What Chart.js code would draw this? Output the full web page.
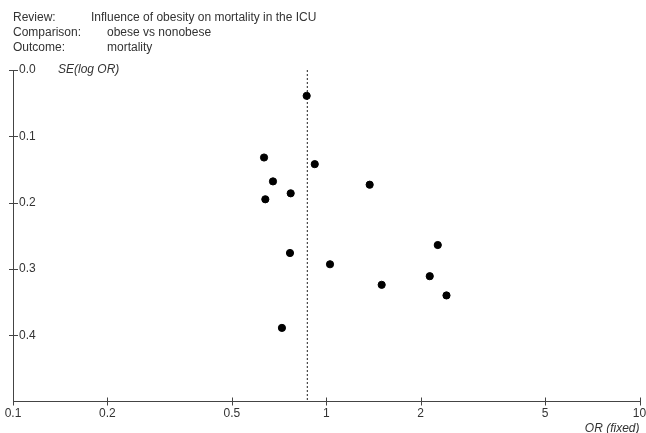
<!DOCTYPE html>
<html>
<head>
<meta charset="utf-8">
<script src="https://cdn.jsdelivr.net/npm/chart.js@4.4.0/dist/chart.umd.min.js"></script>
<style>
  html, body { margin: 0; padding: 0; background: #fff; }
  #wrap { width: 646px; height: 433px; position: relative; }
</style>
</head>
<body>
<div id="wrap"><canvas id="myChart" width="646" height="433"></canvas></div>
<script>
// study estimates
const oddsRatios = [0.866, 0.633, 0.919, 0.676, 0.770, 0.639, 1.376, 0.766, 1.028, 2.27, 2.14, 1.503, 2.42, 0.722];
const seLogOR    = [0.039, 0.132, 0.142, 0.168, 0.186, 0.195, 0.173, 0.276, 0.293, 0.264, 0.311, 0.324, 0.340, 0.389];
const pooledOR = 0.87;
const xTicks = [0.1, 0.2, 0.5, 1, 2, 5, 10];
const yTicks = [0, 0.1, 0.2, 0.3, 0.4];
const header = [
    ['Review:', 'Influence of obesity on mortality in the ICU', 91],
    ['Comparison:', 'obese vs nonobese', 107],
    ['Outcome:', 'mortality', 107]
];

const axisColor = '#444';
const textColor = '#333';
const fontFam = '"Liberation Sans", Arial, sans-serif';

let points = [];
for (var i = 0; i < oddsRatios.length; i++) {
    points.push({ x: oddsRatios[i], y: seLogOR[i] });
}

// header lines, y axis caption and tick marks crossing the axes
const decor = {
    id: 'decor',
    afterDraw(chart) {
        const ctx = chart.ctx;
        const xs = chart.scales.x, ys = chart.scales.y;
        const a = chart.chartArea;
        ctx.save();
        ctx.fillStyle = textColor;
        ctx.font = '12px ' + fontFam;
        ctx.textBaseline = 'middle';
        for (var i = 0; i < header.length; i++) {
            ctx.fillText(header[i][0], 13, 18 + i * 15);
            ctx.fillText(header[i][1], header[i][2], 18 + i * 15);
        }
        ctx.font = 'italic 12px ' + fontFam;
        ctx.fillText('SE(log OR)', 58, a.top);

        ctx.strokeStyle = axisColor;
        ctx.lineWidth = 1;
        ctx.beginPath();
        xTicks.forEach(v => {
            const px = Math.round(xs.getPixelForValue(v)) + 0.5;
            ctx.moveTo(px, a.bottom - 4);
            ctx.lineTo(px, a.bottom + 4);
        });
        yTicks.forEach(v => {
            const py = Math.round(ys.getPixelForValue(v)) + 0.5;
            ctx.moveTo(a.left - 4, py);
            ctx.lineTo(a.left + 5, py);
        });
        ctx.stroke();
        ctx.restore();
    }
};

Chart.defaults.font.family = fontFam;
Chart.defaults.font.size = 12;
Chart.defaults.color = textColor;

const ctx = document.getElementById('myChart').getContext('2d');
const myChart = new Chart(ctx, {
    type: 'scatter',
    data: {
        datasets: [{
            data: points,
            backgroundColor: '#000',
            borderColor: '#000',
            pointRadius: 3.6,
            pointHoverRadius: 3.6
        }, {
            type: 'line',
            data: [{ x: pooledOR, y: 0 }, { x: pooledOR, y: 0.5 }],
            borderColor: '#222',
            borderWidth: 1,
            borderDash: [2, 2],
            pointRadius: 0,
            fill: false
        }]
    },
    plugins: [decor],
    options: {
        responsive: false,
        animation: false,
        events: [],
        layout: {
            padding: { left: 13, right: 6.5, top: 70, bottom: 0 }
        },
        plugins: {
            legend: { display: false },
            tooltip: { enabled: false }
        },
        scales: {
            x: {
                type: 'logarithmic',
                min: 0.1,
                max: 10,
                afterBuildTicks: (scale) => {
                    scale.ticks = xTicks.map(v => ({ value: v }));
                },
                afterFit: (scale) => {
                    scale.paddingLeft = 0;
                    scale.paddingRight = 0;
                    scale.height = 31.5;
                },
                ticks: {
                    autoSkip: false,
                    maxRotation: 0,
                    padding: 5,
                    color: textColor,
                    callback: (v) => String(v)
                },
                grid: { display: false, drawTicks: false },
                border: { color: axisColor, width: 1 },
                title: {
                    display: true,
                    text: 'OR (fixed)',
                    align: 'end',
                    color: textColor,
                    font: { style: 'italic', size: 12 },
                    padding: { top: 0, bottom: -3 }
                }
            },
            y: {
                min: 0,
                max: 0.5,
                reverse: true,
                afterBuildTicks: (scale) => {
                    scale.ticks = yTicks.map(v => ({ value: v }));
                },
                afterFit: (scale) => {
                    scale.width = 0;
                },
                ticks: {
                    mirror: true,
                    padding: 6,
                    color: textColor,
                    callback: (v) => v.toFixed(1)
                },
                grid: { display: false, drawTicks: false },
                border: { color: axisColor, width: 1 }
            }
        }
    }
});
</script>
</body>
</html>
